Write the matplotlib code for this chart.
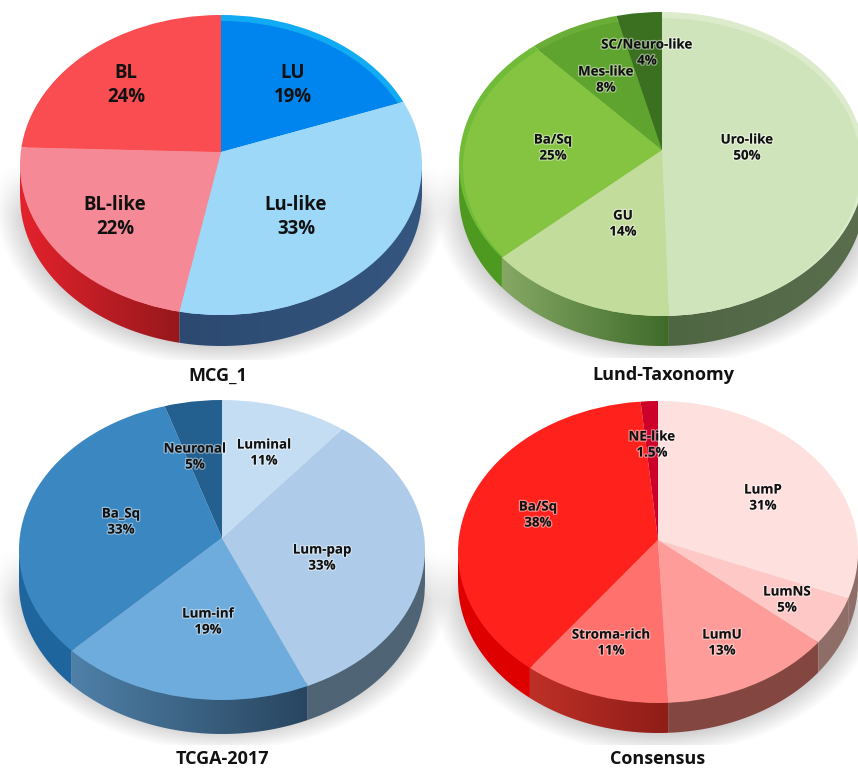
import numpy as np
import matplotlib
matplotlib.use("Agg")
import matplotlib.pyplot as plt
import matplotlib.patheffects as pe
from matplotlib.colors import LinearSegmentedColormap
from matplotlib.patches import Circle, Polygon

plt.rcParams['font.family'] = ['Open Sans', 'DejaVu Sans']

W, H = 858, 769

# values as printed on the chart
mcg_names = ["LU", "Lu-like", "BL-like", "BL"]
mcg_values = [19, 33, 22, 24]
mcg_colors = ["#0085EE", "#9DD8F8", "#F58A96", "#FA4D52"]
mcg_rims = ["#10ABF2", "#9DD8F8", "#F58A96", "#FA4D52"]
mcg_walls = [("#2E4D75", "#2E4D75"), ("#2C4A70", "#35567F"), ("#E4222C", "#96181C"), ("#E4222C", "#E4222C")]

lund_names = ["Uro-like", "GU", "Ba/Sq", "Mes-like", "SC/Neuro-like"]
lund_values = [50, 14, 25, 8, 4]
lund_colors = ["#D0E4BC", "#C2DC9C", "#84C440", "#5FA42E", "#3B7020"]
lund_rims = ["#DCEBCB", "#C2DC9C", "#70BC38", "#6AAE38", "#3B7020"]
lund_walls = [("#4F6643", "#5A6E4E"), ("#86A865", "#3F6B2A"), ("#4E9A20", "#4E9A20"), ("#4E9A20", "#4E9A20"), ("#3B7020", "#3B7020")]

tcga_names = ["Luminal", "Lum-pap", "Lum-inf", "Ba_Sq", "Neuronal"]
tcga_values = [11, 33, 19, 33, 5]
tcga_colors = ["#C5DDF2", "#AECCE9", "#6EACDD", "#3A87C2", "#236090"]
tcga_walls = [("#4F6475", "#4F6475"), ("#4F6475", "#4F6475"), ("#4F80A8", "#28455F"), ("#1F659E", "#1F659E"), ("#1F659E", "#1F659E")]

cons_names = ["LumP", "LumNS", "LumU", "Stroma-rich", "Ba/Sq", "NE-like"]
cons_values = [31, 5, 13, 11, 38, 1.5]
cons_colors = ["#FEE0DE", "#FDC8C5", "#FD9C98", "#FF716C", "#FF221C", "#CC0028"]
cons_walls = [("#8F6E68", "#8F6E68"), ("#8F6E68", "#8F6E68"), ("#844640", "#844640"), ("#BE3027", "#8E1D18"), ("#DE0000", "#DE0000"), ("#DE0000", "#DE0000")]

# label centres in pixels of the picture
mcg_xy = [(293, 85), (296, 217), (115, 217), (126, 85)]
lund_xy = [(747, 148), (623, 224), (553, 148), (606, 80), (647, 53)]
tcga_xy = [(264, 453), (322, 558), (208, 622), (121, 522), (195, 457)]
cons_xy = [(763, 498), (787, 600), (722, 643), (611, 643), (538, 515), (652, 445)]

fig = plt.figure(figsize=(W / 100, H / 100), dpi=100, facecolor="white")

# background axes in pixel coordinates, for shadows and text
bg = fig.add_axes([0, 0, 1, 1], zorder=0)
bg.set_xlim(0, W)
bg.set_ylim(H, 0)
bg.axis("off")
txt = fig.add_axes([0, 0, 1, 1], zorder=5)
txt.set_xlim(0, W)
txt.set_ylim(H, 0)
txt.axis("off")


def add_shadow(cx, cy, rx, ry, cut):
    xx, yy = np.meshgrid(np.arange(W) + 0.5, np.arange(H) + 0.5)
    d = np.sqrt(((xx - cx) / (rx + 12)) ** 2 + ((yy - cy - 38) / (ry + 4)) ** 2)
    a = np.clip((1.06 - d) / 0.14, 0, 1) * 0.55
    a *= np.clip((yy - cy) / 50, 0, 1)
    a[yy > cut] = 0
    img = np.zeros((H, W, 4))
    img[..., :3] = 0.66
    img[..., 3] = a
    bg.imshow(img, extent=(0, W, H, 0), aspect="auto", interpolation="bilinear")
    bg.set_xlim(0, W)
    bg.set_ylim(H, 0)


def hit_points(theta, apex):
    # where a ray from the apex reaches the unit circle, theta clockwise from top
    dx, dy = np.sin(theta), np.cos(theta)
    s = -apex * dy + np.sqrt((apex * dy) ** 2 - apex ** 2 + 1)
    return s * dx, apex + s * dy


def draw_pie(names, values, colors, walls, xy, title, title_xy, cx, cy, rx, ry, apex_px, depth_px, cut, rims=None):
    add_shadow(cx, cy, rx, ry, cut)
    apex = apex_px / ry
    depth = depth_px / ry
    pad = 0.03
    left = (cx - rx * (1 + pad)) / W
    bottom = 1 - (cy + ry * (1 + depth + pad)) / H
    ax = fig.add_axes([left, bottom, 2 * rx * (1 + pad) / W, ry * (2 + depth + 2 * pad) / H], zorder=2)
    ax.patch.set_alpha(0)

    # side wall, one gradient strip per slice
    edges = np.cumsum([0] + list(values)) / sum(values) * 2 * np.pi
    for i in range(len(values)):
        th = np.linspace(edges[i], edges[i + 1], 300)
        hx, hy = hit_points(th, apex)
        low = hy <= 0
        if not low.any():
            continue
        x0, x1 = hx[low].min(), hx[low].max()
        x = np.linspace(x0, x1, 200)
        top = -np.sqrt(np.clip(1 - x ** 2, 0, 1))
        verts = np.r_[np.c_[x, top + 0.03], np.c_[x[::-1], top[::-1] - depth]]
        cmap = LinearSegmentedColormap.from_list("w", list(walls[i]))
        im = ax.imshow(np.linspace(0, 1, 256)[None, :], cmap=cmap, aspect="auto",
                       extent=(x0, x1, -1 - depth, 0), zorder=1)
        im.set_clip_path(Polygon(verts, closed=True, transform=ax.transData))

    # optional lighter rim along the back edge
    if rims is not None:
        wedges, _ = ax.pie(values, colors=rims, startangle=90, counterclock=False,
                           center=(0, apex), radius=1.5)
        clip = Circle((0, 0), 1, transform=ax.transData)
        for w in wedges:
            w.set_zorder(2)
            w.set_clip_on(True)
            w.set_clip_path(clip)

    wedges, _ = ax.pie(values, colors=colors, startangle=90, counterclock=False,
                       center=(0, apex), radius=1.5)
    r = 0.98 if rims is not None else 1
    clip = Circle((0, r - 1), r, transform=ax.transData)
    for w in wedges:
        w.set_zorder(3)
        w.set_clip_on(True)
        w.set_clip_path(clip)

    ax.set_aspect("auto")
    ax.set_xlim(-1 - pad, 1 + pad)
    ax.set_ylim(-1 - depth - pad, 1 + pad)
    ax.axis("off")

    size = 13.4 if len(values) == 4 else 9.6
    for name, v, (lx, ly) in zip(names, values, xy):
        t = txt.text(lx, ly, f"{name}\n{v:g}%", ha="center", va="center", fontsize=size,
                     fontweight="bold", color="#111111", linespacing=1.25 if size > 12 else 1.3)
        if size < 12:
            t.set_path_effects([pe.withStroke(linewidth=1.8, foreground=(1, 1, 1, 0.45))])
    txt.text(title_xy[0], title_xy[1], title, ha="center", va="baseline", fontsize=13,
             fontweight="bold", color="#111111")


draw_pie(mcg_names, mcg_values, mcg_colors, mcg_walls, mcg_xy, "MCG_1", (218, 381),
         221, 165, 201, 150, 13, 31, 360, rims=mcg_rims)
draw_pie(lund_names, lund_values, lund_colors, lund_walls, lund_xy, "Lund-Taxonomy", (663, 380),
         662, 164, 203, 152, 14, 30, 358, rims=lund_rims)
draw_pie(tcga_names, tcga_values, tcga_colors, tcga_walls, tcga_xy, "TCGA-2017", (222, 764),
         222, 550, 203, 150, 12, 34, 745)
draw_pie(cons_names, cons_values, cons_colors, cons_walls, cons_xy, "Consensus", (658, 764),
         658, 552, 200, 151, 12, 30, 745)

fig.savefig("out.png", dpi=100)
